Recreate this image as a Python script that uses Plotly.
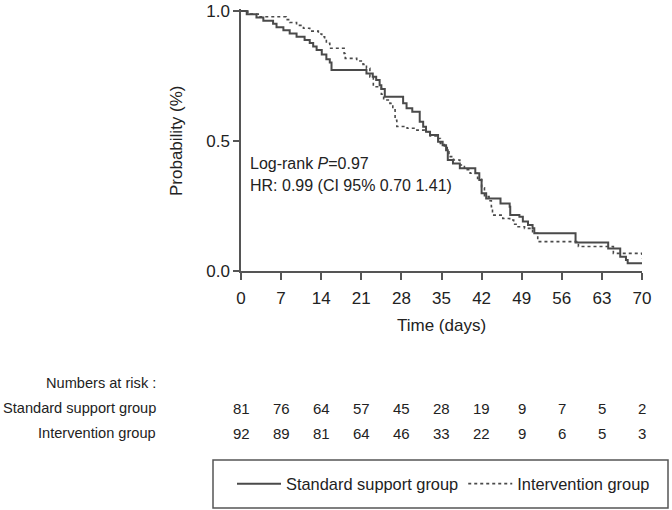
import plotly.graph_objects as go

# ---------------- data ----------------
standard_t = [0, 1.0, 2.7, 3.9, 5.6, 6.2, 7.4, 8.5, 9.7, 11.1, 12.0, 12.6, 13.2, 14.1, 14.9,
              15.5, 15.8, 21.9, 23.0, 23.6, 24.2, 24.5, 25.1, 28.3, 28.9, 29.9, 31.2, 31.8,
              32.3, 33.0, 34.4, 35.2, 35.8, 36.1, 37.0, 38.2, 40.9, 41.6, 42.0, 42.8, 45.3,
              46.9, 47.0, 48.6, 49.2, 50.1, 50.9, 51.2, 58.4, 64.1, 66.2, 67.2, 67.5, 70.0]
standard_s = [1.0, 0.988, 0.975, 0.963, 0.951, 0.938, 0.926, 0.914, 0.901, 0.889, 0.877, 0.864,
              0.850, 0.833, 0.815, 0.802, 0.773, 0.760, 0.747, 0.735, 0.715, 0.700, 0.670, 0.645,
              0.626, 0.613, 0.574, 0.555, 0.536, 0.523, 0.497, 0.484, 0.465, 0.427, 0.414, 0.395,
              0.376, 0.350, 0.299, 0.279, 0.260, 0.247, 0.215, 0.209, 0.190, 0.177, 0.164, 0.145,
              0.110, 0.087, 0.055, 0.042, 0.030, 0.030]

intervention_t = [0, 1.2, 3.0, 7.9, 8.5, 9.7, 10.9, 12.0, 13.5, 14.1, 14.6, 14.9, 15.5, 18.0,
                  18.2, 20.2, 21.3, 21.9, 22.5, 23.1, 24.5, 24.9, 26.0, 26.5, 26.9, 27.2, 29.0,
                  30.7, 32.0, 33.0, 34.2, 34.8, 35.5, 36.0, 36.3, 37.1, 38.2, 39.0, 40.0, 41.3,
                  42.0, 42.5, 43.3, 43.7, 43.9, 45.7, 46.9, 47.6, 48.2, 49.5, 50.9, 51.8, 58.9,
                  65.0, 70.0]
intervention_s = [1.0, 0.989, 0.978, 0.967, 0.956, 0.945, 0.934, 0.923, 0.912, 0.901, 0.890,
                  0.876, 0.857, 0.837, 0.818, 0.808, 0.795, 0.780, 0.747, 0.709, 0.680, 0.658,
                  0.645, 0.620, 0.580, 0.556, 0.549, 0.542, 0.536, 0.520, 0.510, 0.491, 0.478,
                  0.459, 0.440, 0.427, 0.408, 0.390, 0.376, 0.356, 0.320, 0.286, 0.270, 0.247,
                  0.215, 0.202, 0.196, 0.180, 0.170, 0.164, 0.145, 0.113, 0.094, 0.068, 0.049]

risk_times = [0, 7, 14, 21, 28, 35, 42, 49, 56, 63, 70]
risk_standard = [81, 76, 64, 57, 45, 28, 19, 9, 7, 5, 2]
risk_intervention = [92, 89, 81, 64, 46, 33, 22, 9, 6, 5, 3]

group_names = ["Standard support group", "Intervention group"]
x_ticks = [0, 7, 14, 21, 28, 35, 42, 49, 56, 63, 70]
y_ticks = [0.0, 0.5, 1.0]
y_ticklabels = ["0.0", "0.5", "1.0"]

# ---------------- layout geometry ----------------
W, H = 672, 510
L, R = 241, 642          # plot area px (x)
T, B = 9, 271            # plot area px (y)
PW, PH = R - L, B - T

def px2paper(px):
    return (px - L) / PW

def py2paper(py):
    return (B - py) / PH

FONT = "Liberation Sans, Arial, Helvetica, sans-serif"
TXT = "#222222"
LINE = "#4a4a4a"

fig = go.Figure()
fig.add_trace(go.Scatter(x=standard_t, y=standard_s, mode="lines", line_shape="hv",
                         name=group_names[0],
                         line=dict(color=LINE, width=2, dash="solid")))
fig.add_trace(go.Scatter(x=intervention_t, y=intervention_s, mode="lines", line_shape="hv",
                         name=group_names[1],
                         line=dict(color=LINE, width=1.6, dash="dot")))

annotations = []
# statistics text
annotations.append(dict(x=px2paper(248), y=py2paper(163), xref="paper", yref="paper",
                        text="Log-rank <i>P</i>=0.97", showarrow=False, xanchor="left",
                        yanchor="middle", font=dict(size=16, color=TXT, family=FONT)))
annotations.append(dict(x=px2paper(248), y=py2paper(185), xref="paper", yref="paper",
                        text="HR: 0.99 (CI 95% 0.70 1.41)", showarrow=False, xanchor="left",
                        yanchor="middle", font=dict(size=16, color=TXT, family=FONT)))
# axis titles
annotations.append(dict(x=px2paper(176), y=py2paper(141), xref="paper", yref="paper",
                        text="Probability (%)", textangle=-90, showarrow=False,
                        xanchor="center", yanchor="middle",
                        font=dict(size=17, color=TXT, family=FONT)))
annotations.append(dict(x=px2paper(441), y=py2paper(325), xref="paper", yref="paper",
                        text="Time (days)", showarrow=False, xanchor="center", yanchor="middle",
                        font=dict(size=17, color=TXT, family=FONT)))
# numbers at risk table
row_y = [py2paper(383), py2paper(408), py2paper(433)]
labels = ["Numbers at risk :", group_names[0], group_names[1]]
for lab, yy in zip(labels, row_y):
    annotations.append(dict(x=px2paper(158), y=yy, xref="paper", yref="paper", text=lab,
                            showarrow=False, xanchor="right", yanchor="middle",
                            font=dict(size=14.6, color=TXT, family=FONT)))
for t, a, b in zip(risk_times, risk_standard, risk_intervention):
    annotations.append(dict(x=t, y=row_y[1], xref="x", yref="paper", text=str(a),
                            showarrow=False, xanchor="center", yanchor="middle",
                            font=dict(size=15, color=TXT, family=FONT)))
    annotations.append(dict(x=t, y=row_y[2], xref="x", yref="paper", text=str(b),
                            showarrow=False, xanchor="center", yanchor="middle",
                            font=dict(size=15, color=TXT, family=FONT)))

shapes = [dict(type="rect", xref="paper", yref="paper",
               x0=px2paper(213), x1=px2paper(668), y0=py2paper(460), y1=py2paper(508),
               line=dict(color="#555555", width=1.5), fillcolor="rgba(0,0,0,0)")]

fig.update_layout(
    width=W, height=H,
    margin=dict(l=L, r=W - R, t=T, b=H - B, pad=0, autoexpand=False),
    paper_bgcolor="white", plot_bgcolor="white",
    font=dict(family=FONT, color=TXT),
    showlegend=True,
    legend=dict(orientation="h", x=px2paper(232), y=py2paper(484), xanchor="left",
                yanchor="middle", xref="paper", yref="paper",
                font=dict(size=16.4, color=TXT, family=FONT),
                itemwidth=44, entrywidth=0,
                bgcolor="rgba(0,0,0,0)", borderwidth=0, itemclick=False,
                itemdoubleclick=False),
    annotations=annotations,
    shapes=shapes,
    xaxis=dict(range=[0, 70], tickvals=x_ticks, ticktext=[str(v) for v in x_ticks],
               showline=True, linecolor="#555555", linewidth=1.5, ticks="outside",
               ticklen=7, tickwidth=1.5, tickcolor="#555555", showgrid=False,
               zeroline=False, tickfont=dict(size=17, color=TXT, family=FONT),
               ticklabelstandoff=4),
    yaxis=dict(range=[0, 1.008], tickvals=y_ticks, ticktext=y_ticklabels,
               showline=True, linecolor="#555555", linewidth=1.5, ticks="outside",
               ticklen=6, tickwidth=1.5, tickcolor="#555555", showgrid=False,
               zeroline=False, tickfont=dict(size=17, color=TXT, family=FONT)),
)

fig.write_html("out.html", config={"displayModeBar": False},
               post_script="document.body.style.margin='0';")
